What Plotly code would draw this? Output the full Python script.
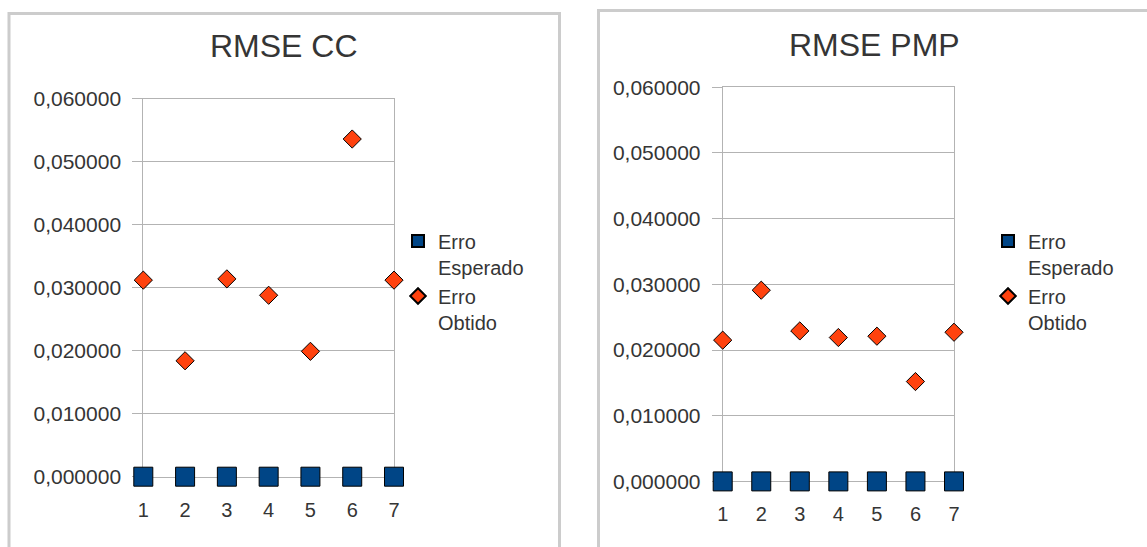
import plotly.graph_objects as go

W, H = 1147, 547

categories = [1, 2, 3, 4, 5, 6, 7]
cc_esperado = [0, 0, 0, 0, 0, 0, 0]
cc_obtido = [0.0312, 0.0184, 0.0314, 0.0288, 0.0199, 0.0536, 0.0312]
pmp_esperado = [0, 0, 0, 0, 0, 0, 0]
pmp_obtido = [0.0215, 0.0291, 0.0229, 0.0219, 0.0221, 0.0152, 0.0227]
y_ticks = [0, 0.01, 0.02, 0.03, 0.04, 0.05, 0.06]
titles = ["RMSE CC", "RMSE PMP"]
series_names = ["Erro<br>Esperado", "Erro<br>Obtido"]

FONT = "Liberation Sans"
TXT = "#353535"
GRID = "#b3b3b3"
BLUE = "#004586"
ORANGE = "#ff420e"


def px(x):
    return x / W


def py(y):
    return 1 - y / H


fig = go.Figure()

panels = [
    dict(esp=cc_esperado, obt=cc_obtido, xa="x", ya="y", legend="legend"),
    dict(esp=pmp_esperado, obt=pmp_obtido, xa="x2", ya="y2", legend="legend2"),
]

for p in panels:
    fig.add_trace(go.Scatter(
        x=categories, y=p["esp"], mode="markers", name=series_names[0],
        xaxis=p["xa"], yaxis=p["ya"], legend=p["legend"], cliponaxis=False,
        marker=dict(symbol="square", size=19, color=BLUE,
                    line=dict(color="black", width=1)),
    ))
    fig.add_trace(go.Scatter(
        x=categories, y=p["obt"], mode="markers", name=series_names[1],
        xaxis=p["xa"], yaxis=p["ya"], legend=p["legend"], cliponaxis=False,
        marker=dict(symbol="diamond", size=14, color=ORANGE,
                    line=dict(color="black", width=1)),
    ))

xcommon = dict(range=[1, 7], tickvals=categories, ticks="outside", ticklen=8,
               tickcolor=GRID, showgrid=False, zeroline=False, showline=True,
               mirror=True, linecolor=GRID, linewidth=1, automargin=False,
               layer="below traces",
               tickfont=dict(family=FONT, size=20, color=TXT),
               ticklabelstandoff=7)
ycommon = dict(range=[0, 0.06], tickvals=y_ticks, tickformat=".6f",
               ticks="outside", ticklen=10, tickcolor=GRID, showgrid=True,
               gridcolor=GRID, gridwidth=1, zeroline=False, showline=True,
               mirror=True, linecolor=GRID, linewidth=1, automargin=False,
               layer="below traces",
               tickfont=dict(family=FONT, size=21, color=TXT),
               ticklabelstandoff=7)

fig.update_layout(
    width=W, height=H,
    margin=dict(l=0, r=0, t=0, b=0, pad=0, autoexpand=False),
    paper_bgcolor="white", plot_bgcolor="white",
    separators=",.",
    font=dict(family=FONT, color=TXT, size=20),
    xaxis=dict(xcommon, domain=[px(143.3), px(394)], anchor="y"),
    yaxis=dict(ycommon, domain=[py(476.7), py(98.7)], anchor="x"),
    xaxis2=dict(xcommon, domain=[px(722.7), px(954)], anchor="y2"),
    yaxis2=dict(ycommon, domain=[py(481.4), py(87.2)], anchor="x2"),
    legend=dict(x=px(398), y=py(221.5), xanchor="left", yanchor="top",
                valign="top", itemsizing="constant", bgcolor="rgba(0,0,0,0)",
                font=dict(family=FONT, size=20, color=TXT), tracegroupgap=0),
    legend2=dict(x=px(988), y=py(221.5), xanchor="left", yanchor="top",
                 valign="top", itemsizing="constant", bgcolor="rgba(0,0,0,0)",
                 font=dict(family=FONT, size=20, color=TXT), tracegroupgap=0),
    showlegend=True,
    annotations=[
        dict(text=titles[0], x=px(284), y=py(46), xref="paper", yref="paper",
             xanchor="center", yanchor="middle", showarrow=False,
             font=dict(family=FONT, size=32, color=TXT)),
        dict(text=titles[1], x=px(874.5), y=py(44.5), xref="paper", yref="paper",
             xanchor="center", yanchor="middle", showarrow=False,
             font=dict(family=FONT, size=32, color=TXT)),
    ],
    shapes=[
        dict(type="rect", xref="paper", yref="paper", x0=px(9), x1=px(559.5),
             y0=py(570), y1=py(13.5), line=dict(color="#cccccc", width=3),
             layer="below"),
        dict(type="rect", xref="paper", yref="paper", x0=px(598.5), x1=px(1170),
             y0=py(570), y1=py(10.5), line=dict(color="#cccccc", width=3),
             layer="below"),
    ],
)

fig.write_html("out.html")
